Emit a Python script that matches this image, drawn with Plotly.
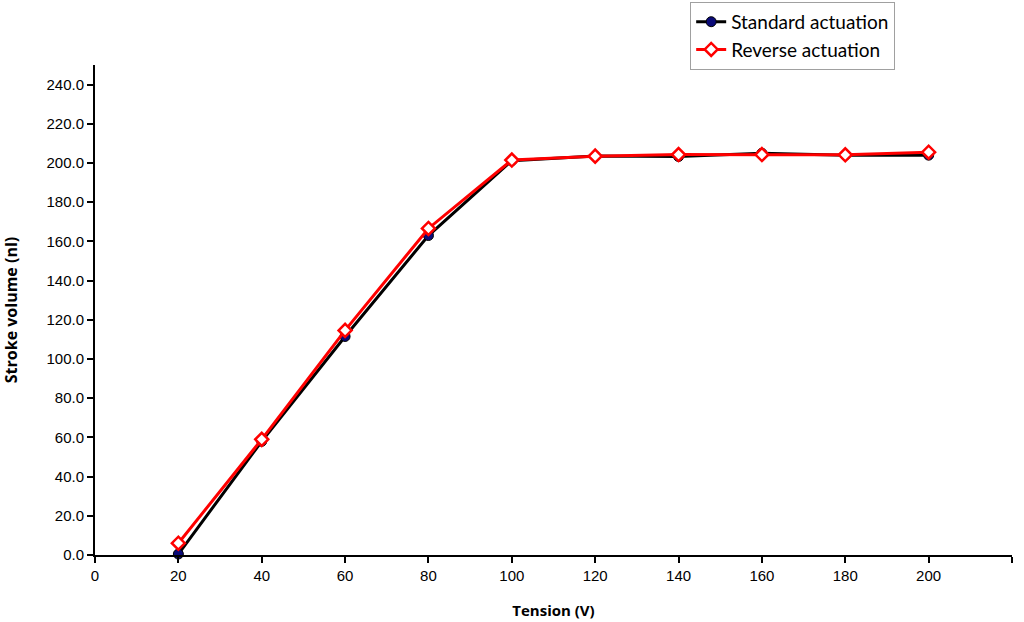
import plotly.graph_objects as go

tension = [20, 40, 60, 80, 100, 120, 140, 160, 180, 200]
standard = [0.5, 58.0, 111.5, 163.0, 201.2, 203.6, 203.3, 205.0, 204.0, 204.0]
reverse = [6.0, 59.0, 114.6, 166.6, 201.5, 203.5, 204.3, 204.3, 204.2, 205.5]
x_ticks = list(range(0, 221, 20))
y_ticks = list(range(0, 241, 20))

fig = go.Figure()
fig.add_trace(go.Scatter(
    x=tension, y=standard, name="Standard actuation", mode="lines+markers",
    line=dict(color="black", width=3),
    marker=dict(symbol="circle", size=10, color="#0a0a78", line=dict(color="black", width=1)),
    cliponaxis=False,
))
fig.add_trace(go.Scatter(
    x=tension, y=reverse, name="Reverse actuation", mode="lines+markers",
    line=dict(color="#ff0000", width=3),
    marker=dict(symbol="diamond", size=10, color="white", line=dict(color="#ff0000", width=2.5)),
    cliponaxis=False,
))

fig.update_layout(
    width=1024, height=622,
    margin=dict(l=95, r=12, t=65, b=67, autoexpand=False),
    paper_bgcolor="white", plot_bgcolor="white",
    font=dict(family="Liberation Sans, Arial", size=14, color="black"),
    showlegend=True,
    legend=dict(
        xref="container", yref="container",
        x=0.674, y=0.997, xanchor="left", yanchor="top",
        bordercolor="#a0a0a0", borderwidth=1, bgcolor="white",
        font=dict(family="Lato, Open Sans", size=19, color="black"),
        tracegroupgap=0, itemwidth=30,
    ),
    xaxis=dict(
        range=[0, 220], tickvals=x_ticks, ticktext=[str(v) for v in x_ticks],
        showgrid=False, zeroline=False, showline=True, linecolor="black", linewidth=2,
        ticks="outside", ticklen=6, tickwidth=1.5, tickcolor="black",
        title=dict(text="<b>Tension (V)</b>", font=dict(family="Open Sans", size=15), standoff=22),
        tickfont=dict(size=15), automargin=False,
    ),
    yaxis=dict(
        range=[0, 250], tickvals=y_ticks, ticktext=[f"{v:.1f}" for v in y_ticks],
        showgrid=False, zeroline=False, showline=True, linecolor="black", linewidth=2,
        ticks="outside", ticklen=6, tickwidth=1.5, tickcolor="black",
        title=dict(text="<b>Stroke volume (nl)</b>", font=dict(family="Open Sans", size=16), standoff=26),
        tickfont=dict(size=15), automargin=False,
    ),
)

fig.write_html("out.html", config={"displayModeBar": False},
               post_script="document.body.style.margin='0';document.body.style.padding='0';")
